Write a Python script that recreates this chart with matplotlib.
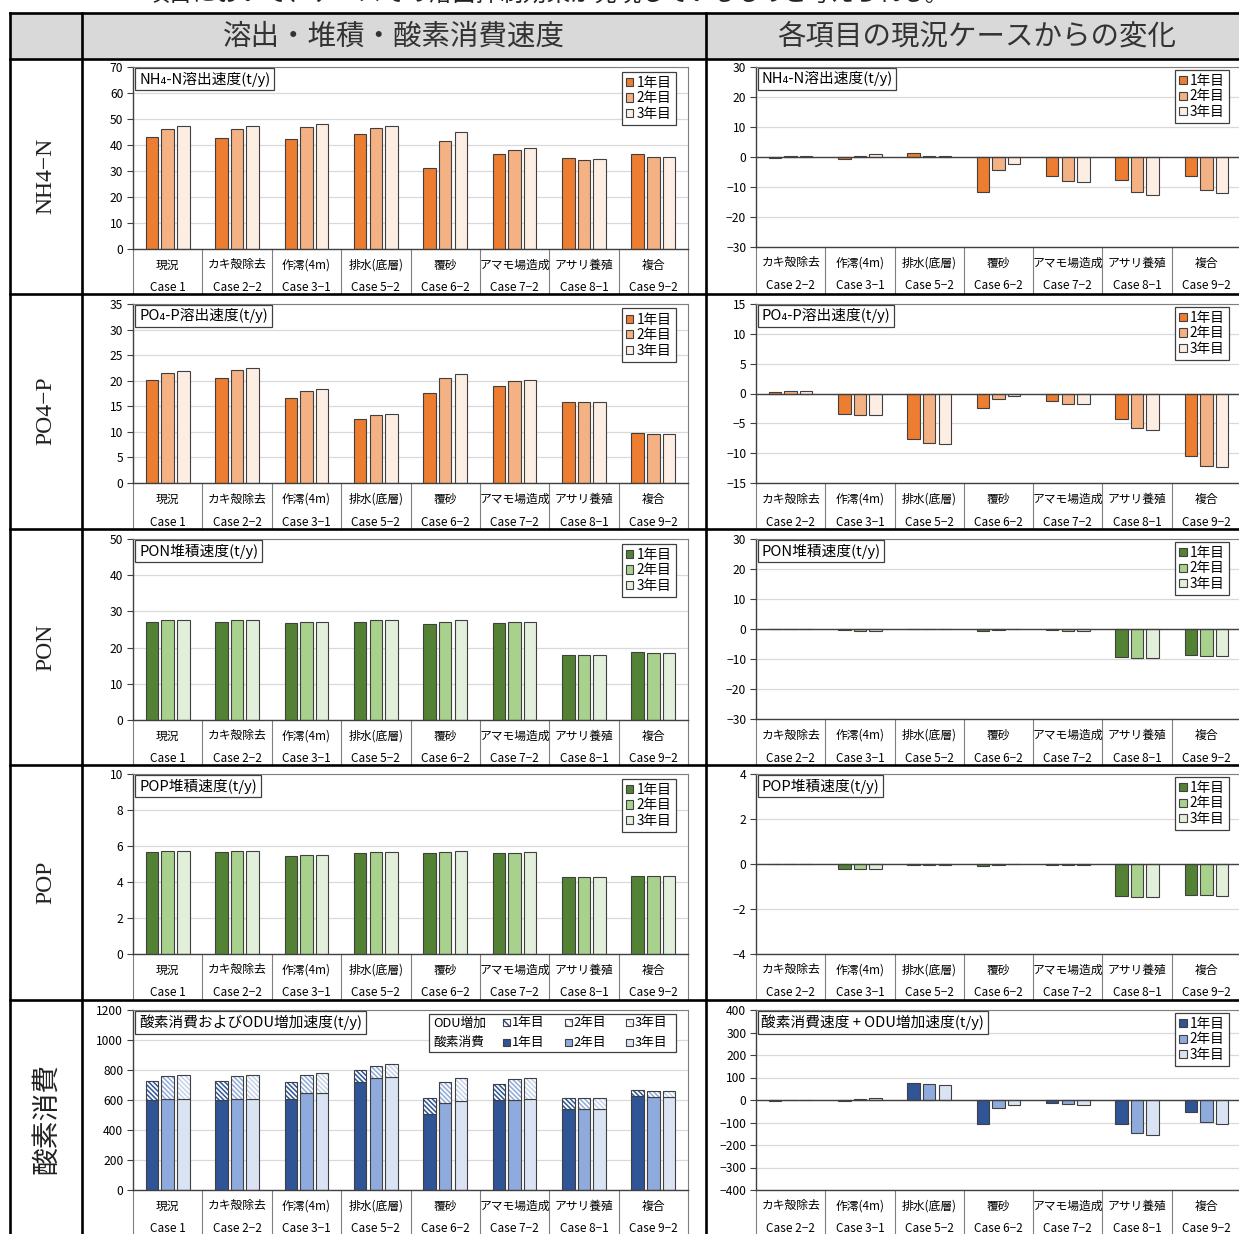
import matplotlib
matplotlib.use("Agg")
import matplotlib.pyplot as plt
import numpy as np
from matplotlib.patches import Rectangle, Patch
from matplotlib.lines import Line2D

plt.rcParams["font.family"] = ["Noto Sans CJK JP", "DejaVu Sans"]
plt.rcParams["hatch.linewidth"] = 1.1

# ---------------------------------------------------------------- data
categories = ["現況", "カキ殻除去", "作澪(4m)", "排水(底層)", "覆砂", "アマモ場造成", "アサリ養殖", "複合"]
cases = ["Case 1", "Case 2−2", "Case 3−1", "Case 5−2", "Case 6−2", "Case 7−2", "Case 8−1", "Case 9−2"]
years = ["1年目", "2年目", "3年目"]

# NH4-N release rate (t/y)
nh4_y1 = [43.1, 42.8, 42.4, 44.3, 31.2, 36.4, 35.1, 36.4]
nh4_y2 = [46.3, 46.2, 46.9, 46.6, 41.7, 38.2, 34.3, 35.5]
nh4_y3 = [47.4, 47.4, 48.0, 47.4, 44.9, 38.9, 34.7, 35.5]
nh4_d1 = [-0.3, -0.6, 1.4, -11.6, -6.3, -7.7, -6.3]
nh4_d2 = [0.2, 0.5, 0.2, -4.4, -8.0, -11.6, -11.0]
nh4_d3 = [0.2, 0.9, 0.2, -2.2, -8.3, -12.7, -11.9]

# PO4-P release rate (t/y)
po4_y1 = [20.2, 20.5, 16.6, 12.5, 17.6, 18.9, 15.8, 9.7]
po4_y2 = [21.6, 22.0, 18.0, 13.3, 20.6, 20.0, 15.8, 9.5]
po4_y3 = [21.9, 22.4, 18.3, 13.4, 21.4, 20.2, 15.8, 9.6]
po4_d1 = [0.2, -3.5, -7.7, -2.5, -1.3, -4.3, -10.4]
po4_d2 = [0.4, -3.6, -8.3, -0.9, -1.7, -5.8, -12.1]
po4_d3 = [0.4, -3.6, -8.4, -0.4, -1.7, -6.1, -12.4]

# PON deposition rate (t/y)
pon_y1 = [27.2, 27.2, 26.8, 27.2, 26.6, 26.9, 18.0, 18.7]
pon_y2 = [27.5, 27.5, 27.0, 27.5, 27.2, 27.0, 18.0, 18.6]
pon_y3 = [27.5, 27.5, 27.0, 27.5, 27.5, 27.0, 18.0, 18.6]
pon_d1 = [-0.1, -0.4, -0.1, -0.5, -0.2, -9.2, -8.7]
pon_d2 = [-0.1, -0.5, -0.1, -0.3, -0.5, -9.5, -9.0]
pon_d3 = [-0.1, -0.5, -0.1, -0.1, -0.5, -9.5, -9.0]

# POP deposition rate (t/y)
pop_y1 = [5.68, 5.68, 5.44, 5.63, 5.59, 5.63, 4.26, 4.32]
pop_y2 = [5.72, 5.72, 5.48, 5.68, 5.68, 5.63, 4.26, 4.32]
pop_y3 = [5.72, 5.72, 5.48, 5.68, 5.72, 5.68, 4.26, 4.32]
pop_d1 = [0.01, -0.22, -0.03, -0.10, -0.05, -1.42, -1.39]
pop_d2 = [0.01, -0.22, -0.03, -0.03, -0.05, -1.46, -1.39]
pop_d3 = [0.01, -0.22, -0.03, -0.02, -0.05, -1.46, -1.42]

# oxygen consumption and ODU increase (t/y)
oxy_y1 = [598, 598, 610, 722, 508, 597, 540, 628]
oxy_y2 = [605, 605, 645, 748, 578, 600, 540, 620]
oxy_y3 = [606, 610, 650, 755, 595, 607, 540, 620]
odu_y1 = [127, 127, 107, 78, 104, 113, 72, 37]
odu_y2 = [157, 155, 120, 77, 144, 138, 72, 40]
odu_y3 = [160, 155, 128, 83, 155, 138, 72, 40]
oxy_d1 = [-3, -6, 75, -107, -15, -107, -55]
oxy_d2 = [-2, 5, 71, -36, -19, -148, -96]
oxy_d3 = [-2, 10, 68, -21, -24, -156, -107]

row_labels = ["NH4−N", "PO4−P", "PON", "POP", "酸素消費"]

orange = ["#ED7D31", "#F4B183", "#FDEEE3"]
green = ["#548235", "#A9D18E", "#E2EFDA"]
blue = ["#2F5597", "#8FAADC", "#DAE3F3"]
hatch_blue = ["#2F5597", "#8FAADC", "#C5D3EC"]
EDGE = "#404040"

# ---------------------------------------------------------------- layout helpers
W, H = 1239, 1234
fig = plt.figure(figsize=(W / 100, H / 100), dpi=100)
fig.patch.set_facecolor("white")

row_edges = [59, 294, 529, 765, 1000, 1240]
left_plot = [(67, 249), (304, 483), (539, 720), (774, 954), (1010, 1190)]
right_plot = [(67, 247), (304, 483), (539, 719), (774, 954), (1010, 1190)]
LX0, LX1 = 133, 688
RX0, RX1 = 756, 1241


def add_axes_px(x0, y0, x1, y1):
    return fig.add_axes([x0 / W, 1 - y1 / H, (x1 - x0) / W, (y1 - y0) / H])


def row_clip(r):
    top, bot = row_edges[r], row_edges[r + 1]
    clip = Rectangle((0, 1 - bot / H), 1, (bot - top) / H, transform=fig.transFigure,
                     visible=False)
    fig.add_artist(clip)
    return clip


def style_axes(ax, ylim, step, zero_line):
    ax.set_ylim(*ylim)
    ax.set_yticks(np.arange(ylim[0], ylim[1] + step / 2, step))
    ax.yaxis.grid(True, color="#D9D9D9", lw=0.9)
    ax.set_axisbelow(True)
    ax.set_xticks([])
    for s in ["top", "right"]:
        ax.spines[s].set_color("#7F7F7F")
        ax.spines[s].set_linewidth(0.8)
    ax.spines["left"].set_color(EDGE)
    ax.spines["left"].set_linewidth(1.0)
    ax.spines["bottom"].set_color(EDGE)
    ax.spines["bottom"].set_linewidth(1.0)
    ax.tick_params(axis="y", direction="out", length=4, width=0.8, color=EDGE,
                   labelsize=8.7, pad=3)
    if zero_line:
        ax.axhline(0, color=EDGE, lw=1.0, zorder=3)


def category_axis(ax, cats, labels, ax_h, depth, clip):
    tr = ax.get_xaxis_transform()
    for i, (c, k) in enumerate(zip(cats, labels)):
        t1 = ax.text(i, -16 / ax_h, c, ha="center", va="center", fontsize=8.5,
                     transform=tr, clip_on=True)
        t2 = ax.text(i, -39 / ax_h, k, ha="center", va="center", fontsize=8.5,
                     transform=tr, clip_on=True)
        t1.set_clip_path(clip)
        t2.set_clip_path(clip)
    for b in np.arange(len(cats) + 1) - 0.5:
        ax.plot([b, b], [0, -depth / ax_h], transform=tr, color="#7F7F7F", lw=0.8,
                clip_on=False)


def title_box(ax, text):
    ax.text(0.011, 0.975, text, transform=ax.transAxes, ha="left", va="top",
            fontsize=10.6, zorder=6,
            bbox=dict(boxstyle="square,pad=0.25", fc="white", ec=EDGE, lw=0.9))


def year_legend(ax, colors, anchor):
    handles = [Patch(facecolor=c, edgecolor=EDGE, lw=0.8) for c in colors]
    leg = ax.legend(handles, years, loc="upper right", bbox_to_anchor=anchor,
                    frameon=True, fancybox=False, edgecolor=EDGE, framealpha=1,
                    fontsize=9.8, handlelength=0.55, handleheight=0.55,
                    handletextpad=0.25, labelspacing=0.12, borderpad=0.3,
                    borderaxespad=0)
    leg.get_frame().set_linewidth(0.9)
    leg.set_zorder(6)


OFFS = [-0.225, 0.0, 0.225]
BW = 0.18


def grouped_bars(ax, series, colors):
    x = np.arange(len(series[0]))
    for k, (vals, c) in enumerate(zip(series, colors)):
        ax.bar(x + OFFS[k], vals, BW, color=c, edgecolor=EDGE, lw=0.8, zorder=2)


# ---------------------------------------------------------------- table frame
fig.add_artist(Rectangle((10 / W, 1 - 59 / H), (W - 10) / W, 46 / H,
                         transform=fig.transFigure, fc="#D9D9D9", ec="none", zorder=0))
for yy in [13, 59, 294, 529, 765, 1000]:
    fig.add_artist(Line2D([10 / W, 1], [1 - yy / H] * 2, transform=fig.transFigure,
                          color="black", lw=1.9, zorder=10))
for xx in [10, 82, 706]:
    fig.add_artist(Line2D([xx / W] * 2, [1 - 13 / H, 0], transform=fig.transFigure,
                          color="black", lw=1.9, zorder=10))

fig.text(394 / W, 1 - 37 / H, "溶出・堆積・酸素消費速度", ha="center", va="center",
         fontsize=20.5, color="#333333")
fig.text(977 / W, 1 - 37 / H, "各項目の現況ケースからの変化", ha="center", va="center",
         fontsize=20.5, color="#333333")
fig.text(145 / W, 1 - 1 / H,
         "項目において、ケースでの溶出抑制効果が発現しているものと考えられる。",
         ha="left", va="baseline", fontsize=17, color="#222222")

row_centres = [176, 411, 647, 882, 1119]
for r, (lab, yc) in enumerate(zip(row_labels, row_centres)):
    if r < 4:
        fig.text(46 / W, 1 - yc / H, lab, rotation=90, ha="center", va="center",
                 fontsize=17, family="Liberation Serif", color="#222222")
    else:
        fig.text(46 / W, 1 - yc / H, lab, rotation=90, ha="center", va="center",
                 fontsize=20, color="#222222")

# ---------------------------------------------------------------- panels
panels = [
    dict(left=[nh4_y1, nh4_y2, nh4_y3], right=[nh4_d1, nh4_d2, nh4_d3], colors=orange,
         lylim=(0, 70), lstep=10, rylim=(-30, 30), rstep=10,
         ltitle="NH₄-N溶出速度(t/y)", rtitle="NH₄-N溶出速度(t/y)"),
    dict(left=[po4_y1, po4_y2, po4_y3], right=[po4_d1, po4_d2, po4_d3], colors=orange,
         lylim=(0, 35), lstep=5, rylim=(-15, 15), rstep=5,
         ltitle="PO₄-P溶出速度(t/y)", rtitle="PO₄-P溶出速度(t/y)"),
    dict(left=[pon_y1, pon_y2, pon_y3], right=[pon_d1, pon_d2, pon_d3], colors=green,
         lylim=(0, 50), lstep=10, rylim=(-30, 30), rstep=10,
         ltitle="PON堆積速度(t/y)", rtitle="PON堆積速度(t/y)"),
    dict(left=[pop_y1, pop_y2, pop_y3], right=[pop_d1, pop_d2, pop_d3], colors=green,
         lylim=(0, 10), lstep=2, rylim=(-4, 4), rstep=2,
         ltitle="POP堆積速度(t/y)", rtitle="POP堆積速度(t/y)"),
    dict(left=None, right=[oxy_d1, oxy_d2, oxy_d3], colors=blue,
         lylim=(0, 1200), lstep=200, rylim=(-400, 400), rstep=100,
         ltitle="酸素消費およびODU増加速度(t/y)", rtitle="酸素消費速度 + ODU増加速度(t/y)"),
]

HATCH = "\\\\\\\\\\\\\\"

for r, p in enumerate(panels):
    clip = row_clip(r)
    # left: absolute rates
    ly0, ly1 = left_plot[r]
    axl = add_axes_px(LX0, ly0, LX1, ly1)
    style_axes(axl, p["lylim"], p["lstep"], zero_line=False)
    axl.set_xlim(-0.5, len(categories) - 0.5)
    if p["left"] is not None:
        grouped_bars(axl, p["left"], p["colors"])
        year_legend(axl, p["colors"], (0.978, 0.975))
    else:
        x = np.arange(len(categories))
        oxy = [oxy_y1, oxy_y2, oxy_y3]
        odu = [odu_y1, odu_y2, odu_y3]
        for k in range(3):
            axl.bar(x + OFFS[k], oxy[k], BW, color=blue[k], edgecolor=EDGE, lw=0.8, zorder=2)
            axl.bar(x + OFFS[k], odu[k], BW, bottom=oxy[k], color="white",
                    edgecolor=hatch_blue[k], hatch=HATCH, lw=0, zorder=2)
            axl.bar(x + OFFS[k], odu[k], BW, bottom=oxy[k], fill=False,
                    edgecolor=EDGE, lw=0.8, zorder=2.1)
        # two-row legend: hatched = ODU increase, solid = oxygen consumption
        axl.add_patch(Rectangle((0.533, 0.767), 0.445, 0.211, transform=axl.transAxes,
                                fc="white", ec=EDGE, lw=0.9, zorder=5))
        sw, sh = 7 / (LX1 - LX0), 7 / (ly1 - ly0)
        for yy, name, hatched in [(0.928, "ODU増加", True), (0.822, "酸素消費", False)]:
            axl.text(0.541, yy, name, transform=axl.transAxes, ha="left", va="center",
                     fontsize=9.2, zorder=6)
            for k, xs in enumerate([0.667, 0.778, 0.888]):
                if hatched:
                    axl.add_patch(Rectangle((xs, yy - sh / 2), sw, sh, transform=axl.transAxes,
                                            fc="white", ec=hatch_blue[k],
                                            hatch="\\\\\\\\", lw=0, zorder=6))
                    axl.add_patch(Rectangle((xs, yy - sh / 2), sw, sh, transform=axl.transAxes,
                                            fill=False, ec=EDGE, lw=0.8, zorder=6.1))
                else:
                    axl.add_patch(Rectangle((xs, yy - sh / 2), sw, sh, transform=axl.transAxes,
                                            fc=blue[k], ec=EDGE, lw=0.8, zorder=6))
                axl.text(xs + sw + 0.003, yy, years[k], transform=axl.transAxes,
                         ha="left", va="center", fontsize=9.2, zorder=6)
    title_box(axl, p["ltitle"])
    category_axis(axl, categories, cases, ly1 - ly0, row_edges[r + 1] - ly1, clip)

    # right: change from the present-state case
    ry0, ry1 = right_plot[r]
    axr = add_axes_px(RX0, ry0, RX1, ry1)
    style_axes(axr, p["rylim"], p["rstep"], zero_line=True)
    axr.set_xlim(-0.5, len(categories) - 1.5)
    grouped_bars(axr, p["right"], p["colors"])
    year_legend(axr, p["colors"], (0.975, 0.985))
    title_box(axr, p["rtitle"])
    category_axis(axr, categories[1:], cases[1:], ry1 - ry0, row_edges[r + 1] - ry1, clip)

fig.savefig("out.png", dpi=100)
